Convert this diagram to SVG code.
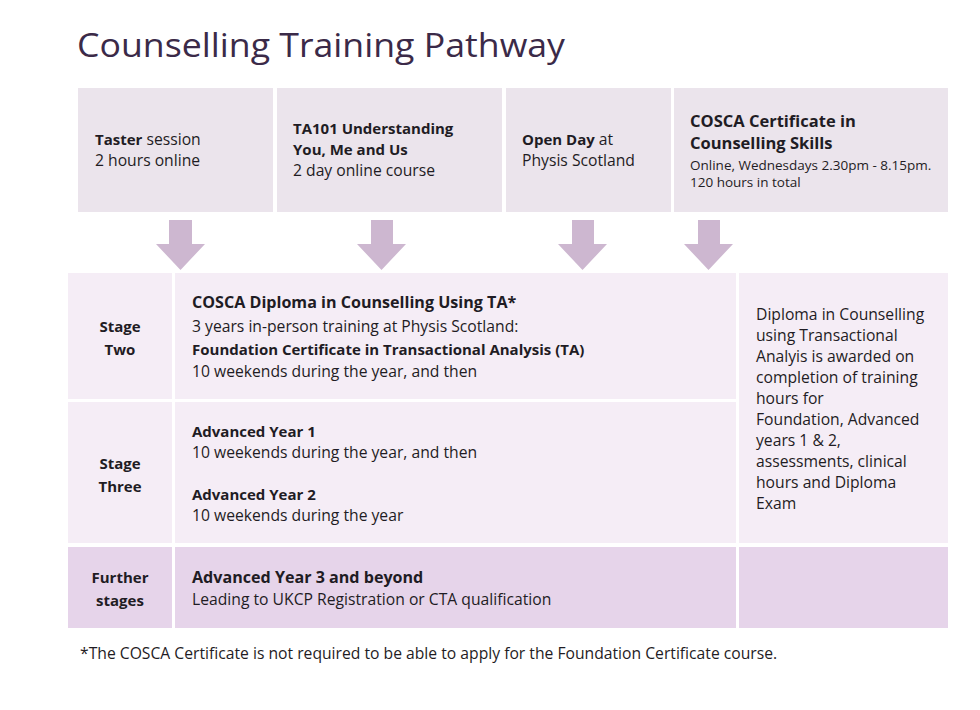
<svg xmlns="http://www.w3.org/2000/svg" width="980" height="710" viewBox="0 0 980 710">
<style>
  text { font-family: "Open Sans", "Noto Sans", "DejaVu Sans", sans-serif; fill: #1f1c24; font-size: 15.7px; }
  .b { font-weight: 700; font-size: 15px; }
  .title { font-size: 33px; fill: #3b2a48; font-weight: 400; }
  .top { fill: #ebe4ec; }
  .stage { fill: #f5edf6; }
  .further { fill: #e6d4ea; }
  .arrow { fill: #cdb7d0; }
  .c { text-anchor: middle; }
  .sm { font-size: 13.5px; }
  .lg { font-size: 16.5px; }
  .md { font-size: 16.1px; }
</style>
<rect width="980" height="710" fill="#ffffff"/>
<text class="title" x="77" y="57" textLength="488" lengthAdjust="spacingAndGlyphs">Counselling Training Pathway</text>

<g id="taster">
  <rect class="top" x="78" y="88" width="195" height="124"/>
  <text x="95" y="145"><tspan class="b">Taster</tspan> session</text>
  <text x="95" y="166">2 hours online</text>
</g>
<g id="ta101">
  <rect class="top" x="277" y="88" width="225" height="124"/>
  <text class="b" x="293" y="134">TA101 Understanding</text>
  <text class="b" x="293" y="155">You, Me and Us</text>
  <text x="293" y="176">2 day online course</text>
</g>
<g id="openday">
  <rect class="top" x="506" y="88" width="165" height="124"/>
  <text x="522" y="145"><tspan class="b">Open Day</tspan> at</text>
  <text x="522" y="166">Physis Scotland</text>
</g>
<g id="cosca-cert">
  <rect class="top" x="674" y="88" width="274" height="124"/>
  <text class="b lg" x="690" y="127">COSCA Certificate in</text>
  <text class="b lg" x="690" y="149">Counselling Skills</text>
  <text class="sm" x="690" y="170">Online, Wednesdays 2.30pm - 8.15pm.</text>
  <text class="sm" x="690" y="187">120 hours in total</text>
</g>

<g id="connectors">
  <polygon class="arrow" points="169,220 192,220 192,244 205,244 180.5,270 156,244 169,244"/>
  <polygon class="arrow" points="371,220 393,220 393,244 406,244 381.5,270 357,244 371,244"/>
  <polygon class="arrow" points="572,220 594,220 594,244 607,244 582.5,270 558,244 572,244"/>
  <polygon class="arrow" points="698,220 720,220 720,244 733,244 708.5,270 684,244 698,244"/>
</g>

<g id="stage-two">
  <rect class="stage" x="68" y="273" width="104" height="126"/>
  <rect class="stage" x="175" y="273" width="561" height="126"/>
  <text class="b c" x="120" y="332">Stage</text>
  <text class="b c" x="120" y="355">Two</text>
  <text class="b md" x="192" y="308">COSCA Diploma in Counselling Using TA*</text>
  <text x="192" y="332">3 years in-person training at Physis Scotland:</text>
  <text class="b" x="192" y="355">Foundation Certificate in Transactional Analysis (TA)</text>
  <text x="192" y="377">10 weekends during the year, and then</text>
</g>
<g id="stage-three">
  <rect class="stage" x="68" y="402" width="104" height="141"/>
  <rect class="stage" x="175" y="402" width="561" height="141"/>
  <text class="b c" x="120" y="469">Stage</text>
  <text class="b c" x="120" y="492">Three</text>
  <text class="b" x="192" y="437">Advanced Year 1</text>
  <text x="192" y="458">10 weekends during the year, and then</text>
  <text class="b" x="192" y="500">Advanced Year 2</text>
  <text x="192" y="521">10 weekends during the year</text>
</g>
<g id="diploma-note">
  <rect class="stage" x="739" y="273" width="209" height="270"/>
  <text x="756" y="320">Diploma in Counselling</text>
  <text x="756" y="341">using Transactional</text>
  <text x="756" y="362">Analyis is awarded on</text>
  <text x="756" y="383">completion of training</text>
  <text x="756" y="404">hours for</text>
  <text x="756" y="425">Foundation, Advanced</text>
  <text x="756" y="446">years 1 &amp; 2,</text>
  <text x="756" y="467">assessments, clinical</text>
  <text x="756" y="488">hours and Diploma</text>
  <text x="756" y="509">Exam</text>
</g>
<g id="further">
  <rect class="further" x="68" y="547" width="104" height="81"/>
  <rect class="further" x="175" y="547" width="561" height="81"/>
  <rect class="further" x="739" y="547" width="209" height="81"/>
  <text class="b c" x="120" y="583">Further</text>
  <text class="b c" x="120" y="606">stages</text>
  <text class="b md" x="192" y="583">Advanced Year 3 and beyond</text>
  <text x="192" y="605">Leading to UKCP Registration or CTA qualification</text>
</g>
<text x="80" y="659">*The COSCA Certificate is not required to be able to apply for the Foundation Certificate course.</text>
</svg>
